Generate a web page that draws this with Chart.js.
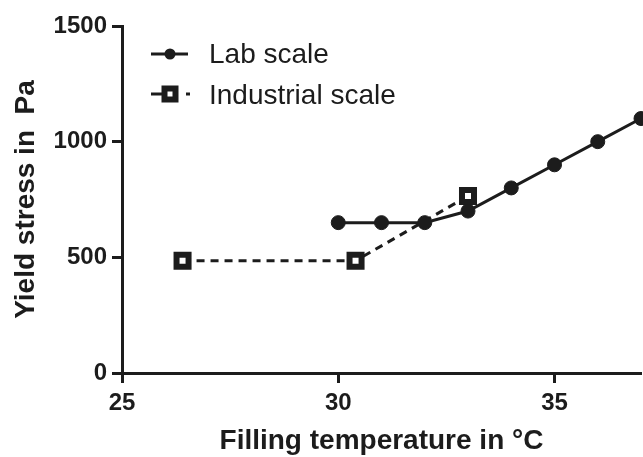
<!DOCTYPE html>
<html>
<head>
<meta charset="utf-8">
<script src="https://cdn.jsdelivr.net/npm/chart.js@4"></script>
<style>
  html, body { margin: 0; padding: 0; background: #fff; }
  #chart { display: block; }
</style>
</head>
<body>
<canvas id="chart" width="643" height="457"></canvas>
<script>
// Chart data
const labX = [30, 31, 32, 33, 34, 35, 36, 37]
const labY = [650, 650, 650, 700, 800, 900, 1000, 1100]
const indX = [26.4, 30.4, 33]
const indY = [485, 485, 765]
const xTicks = [25, 30, 35]
const yTicks = [0, 500, 1000, 1500]

const ink = "#1c1c1c"
const fam = "'Liberation Sans', Arial, Helvetica, sans-serif"

function toPoints(xs, ys) {
  return xs.map((x, i) => ({ x: x, y: ys[i] }))
}

// Legend drawn in the upper left like the original figure
const legendPlugin = {
  id: "cornerLegend",
  afterDraw(chart) {
    const ctx = chart.ctx
    const sets = chart.data.datasets
    ctx.save()
    ctx.strokeStyle = ink
    ctx.fillStyle = ink
    ctx.lineWidth = 3

    // Lab scale row
    ctx.beginPath()
    ctx.moveTo(151, 54)
    ctx.lineTo(188, 54)
    ctx.stroke()
    ctx.beginPath()
    ctx.arc(170, 54, 5.5, 0, Math.PI * 2)
    ctx.fill()

    // Industrial scale row
    ctx.beginPath()
    ctx.moveTo(151, 94)
    ctx.lineTo(162, 94)
    ctx.moveTo(186, 94)
    ctx.lineTo(190, 94)
    ctx.stroke()
    ctx.lineWidth = 6
    ctx.fillStyle = "#fff"
    ctx.fillRect(164.5, 88.5, 11, 11)
    ctx.strokeRect(164.5, 88.5, 11, 11)

    ctx.fillStyle = ink
    ctx.font = "28px " + fam
    ctx.textBaseline = "middle"
    ctx.textAlign = "left"
    ctx.fillText(sets[0].label, 209, 55)
    ctx.fillText(sets[1].label, 209, 96)
    ctx.restore()
  },
}

const ctx = document.getElementById("chart")
new Chart(ctx, {
  type: "line",
  data: {
    datasets: [
      {
        label: "Lab scale",
        data: toPoints(labX, labY),
        borderColor: ink,
        backgroundColor: ink,
        borderWidth: 3,
        pointRadius: 7,
        pointBorderWidth: 1,
        pointBackgroundColor: ink,
        pointBorderColor: ink,
        tension: 0,
        clip: false,
      },
      {
        label: "Industrial scale",
        data: toPoints(indX, indY),
        borderColor: ink,
        borderWidth: 3,
        borderDash: [8, 6],
        pointStyle: "rect",
        pointRadius: 8.5,
        pointBorderWidth: 6,
        pointBackgroundColor: "#fff",
        pointBorderColor: ink,
        tension: 0,
        clip: false,
      },
    ],
  },
  options: {
    responsive: false,
    animation: false,
    layout: { autoPadding: false, padding: { top: 26, right: 2, left: 0, bottom: 0 } },
    plugins: {
      legend: { display: false },
      tooltip: { enabled: false },
    },
    scales: {
      x: {
        type: "linear",
        min: 25,
        max: 37,
        afterBuildTicks: (scale) => {
          scale.ticks = xTicks.map((v) => ({ value: v }))
        },
        afterFit: (scale) => {
          scale.height = 84
          scale.paddingLeft = 0
          scale.paddingRight = 0
        },
        grid: {
          drawOnChartArea: false,
          drawTicks: true,
          tickLength: 10,
          tickWidth: 3,
          tickColor: ink,
        },
        border: { display: true, width: 3, color: ink },
        ticks: {
          color: ink,
          padding: 6,
          callback: (v) => String(v),
          font: { family: fam, size: 24, weight: "bold", lineHeight: 1.2 },
        },
        title: {
          display: true,
          text: "Filling temperature in °C",
          color: ink,
          padding: 0,
          font: { family: fam, size: 28, weight: "bold", lineHeight: 1.1 },
        },
      },
      y: {
        type: "linear",
        min: 0,
        max: 1500,
        afterBuildTicks: (scale) => {
          scale.ticks = yTicks.map((v) => ({ value: v }))
        },
        afterFit: (scale) => {
          scale.width = 122
          scale.paddingTop = 0
          scale.paddingBottom = 0
        },
        grid: {
          drawOnChartArea: false,
          drawTicks: true,
          tickLength: 10,
          tickWidth: 3,
          tickColor: ink,
        },
        border: { display: true, width: 3, color: ink },
        ticks: {
          color: ink,
          padding: 5,
          callback: (v) => String(v),
          font: { family: fam, size: 24, weight: "bold" },
        },
        title: {
          display: true,
          text: "Yield stress in  Pa",
          color: ink,
          padding: { top: 11, bottom: 0 },
          font: { family: fam, size: 28, weight: "bold", lineHeight: 1.1 },
        },
      },
    },
  },
  plugins: [legendPlugin],
})
</script>
</body>
</html>
